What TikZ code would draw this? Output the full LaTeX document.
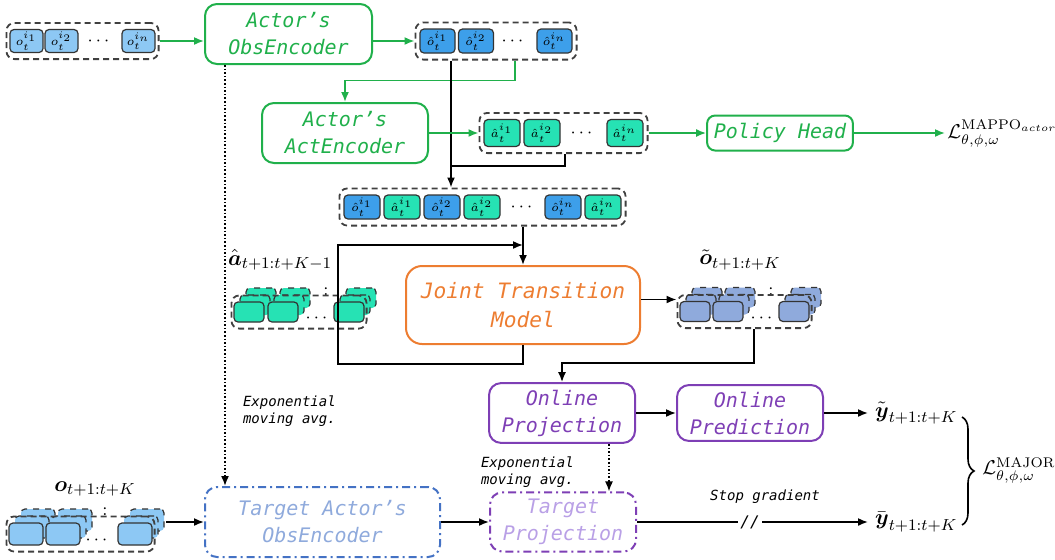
\documentclass[tikz,border=0pt]{standalone}
\usepackage{amsmath,amssymb}
\usepackage{fontspec}
\usepackage{tikz}
\usetikzlibrary{positioning, calc, arrows.meta, fit, decorations.pathreplacing}
\newfontfamily\codefont{DejaVu Sans Mono}

\definecolor{encgreen}{HTML}{20B04B}
\definecolor{jtorange}{HTML}{ED7D31}
\definecolor{projpurple}{HTML}{7E3FB5}
\definecolor{tgtblue}{HTML}{4472C4}
\definecolor{tgtbluetext}{HTML}{8FAADC}
\definecolor{tgtpurpletext}{HTML}{B9A0E6}
\definecolor{obsblue}{HTML}{8DC8F4}
\definecolor{ohatblue}{HTML}{3D9FEA}
\definecolor{ahatgreen}{HTML}{26E2B4}
\definecolor{otilblue}{HTML}{8FAADC}

\tikzset{
  cell/.style={draw=black!80, line width=0.6pt, rounded corners=2pt,
    minimum width=18pt, minimum height=12pt, inner sep=0pt, font=\fontsize{6}{7}\selectfont},
  backcell/.style={cell, dashed},
  dots/.style={inner sep=0pt, font=\small},
  group/.style={draw=black!75, line width=0.9pt, dash pattern=on 3pt off 2pt,
    rounded corners=4pt, inner xsep=2pt, inner ysep=3pt},
  block/.style={draw, line width=1pt, rounded corners=6pt, align=center,
    font=\codefont\itshape\fontsize{10}{13.5}\selectfont},
  target/.style={block, dash pattern=on 4pt off 2pt on 1pt off 2pt},
  note/.style={font=\codefont\itshape\fontsize{7}{8.5}\selectfont, align=left},
  mathlabel/.style={font=\fontsize{11}{13}\selectfont},
  losslabel/.style={anchor=west, inner sep=1pt, font=\fontsize{10}{12}\selectfont},
  conn/.style={->, line width=0.8pt},
}

\begin{document}
\begin{tikzpicture}[x=0.5pt, y=-0.5pt, >={Latex[length=5pt,width=4pt]}]
    \useasboundingbox (0,0) rectangle (1055,559);

    % Observation inputs
    \foreach \k/\x in {1/26.5, 2/61.5, n/138.5}
        \node[cell, fill=obsblue, minimum width=16.5pt, minimum height=11.5pt] (o\k) at (\x,41) {$o_t^{i_\k}$};
    \node[dots] (odots) at (100,41) {$\cdots$};
    \node[group, inner xsep=1.5pt, fit=(o1)(on)] (obsin) {};

    % Actor's encoders
    \node[block, draw=encgreen, text=encgreen, minimum width=83.5pt, minimum height=30pt] (obsenc) at (288.5,34) {Actor’s\\ObsEncoder};
    \node[block, draw=encgreen, text=encgreen, minimum width=83pt, minimum height=30pt] (actenc) at (345,133) {Actor’s\\ActEncoder};

    % Encoded observations
    \foreach \k/\x in {1/437.5, 2/476, n/554.5}
        \node[cell, fill=ohatblue, minimum width=17.5pt] (oh\k) at (\x,41) {$\hat{o}_t^{i_\k}$};
    \node[dots] (ohdots) at (514,41) {$\cdots$};
    \node[group, fit=(oh1)(ohn)] (ohat) {};

    % Encoded actions
    \foreach \k/\x in {1/502, 2/542, n/625}
        \node[cell, fill=ahatgreen, minimum height=13.5pt] (ah\k) at (\x,133) {$\hat{a}_t^{i_\k}$};
    \node[dots] (ahdots) at (583,133) {$\cdots$};
    \node[group, fit=(ah1)(ahn)] (ahat) {};

    \node[block, draw=encgreen, text=encgreen, minimum width=72pt, minimum height=17.5pt, rounded corners=4pt] (policy) at (780,133) {Policy Head};
    \node[losslabel] (lmappo) at (945,133) {$\mathcal{L}_{\theta,\phi,\omega}^{\mathrm{MAPPO}_{actor}}$};

    % Concatenated tokens
    \foreach \k/\x in {1/362, 2/442, n/563}
        \node[cell, fill=ohatblue] (co\k) at (\x,207) {$\hat{o}_t^{i_\k}$};
    \foreach \k/\x in {1/402, 2/482, n/603}
        \node[cell, fill=ahatgreen] (ca\k) at (\x,207) {$\hat{a}_t^{i_\k}$};
    \node[dots] (cdots) at (523,207) {$\cdots$};
    \node[group, fit=(co1)(can)] (cat) {};

    % Joint transition model
    \node[block, draw=jtorange, text=jtorange, minimum width=117pt, minimum height=39pt, rounded corners=8pt,
        font=\codefont\itshape\fontsize{10.6}{14.5}\selectfont] (jtm) at (523,305) {Joint Transition\\Model};

    % Action stack
    \foreach \dx/\dy in {12/14, 6/7}
        \foreach \x in {249,283,349}
            \node[backcell, fill=ahatgreen, minimum width=15pt, minimum height=10pt] (ab\dx\x) at (\x+\dx,312-\dy) {};
    \foreach \k/\x in {1/249, 2/283, n/349}
        \node[cell, fill=ahatgreen, minimum width=15pt, minimum height=10pt] (as\k) at (\x,312) {};
    \node[dots] (asdots) at (318,318) {$\cdots$};
    \node[dots] (asvdots) at (326,292) {:};
    \node[group, inner xsep=1pt, fit=(as1)(asn)] (agrp) {};
    \node[mathlabel] (alabel) at (280,260) {$\hat{\boldsymbol{a}}_{t+1:t+K-1}$};

    % Predicted observation stack
    \foreach \dx/\dy in {12/14, 6/7}
        \foreach \x in {695,728,794}
            \node[backcell, fill=otilblue, minimum width=15pt, minimum height=10pt] (ob\dx\x) at (\x+\dx,311.5-\dy) {};
    \foreach \k/\x in {1/695, 2/728, n/794}
        \node[cell, fill=otilblue, minimum width=15pt, minimum height=10pt] (os\k) at (\x,311.5) {};
    \node[dots] (osdots) at (763,318) {$\cdots$};
    \node[dots] (osvdots) at (771,292) {:};
    \node[group, inner xsep=1pt, fit=(os1)(osn)] (ogrp) {};
    \node[mathlabel] (olabel) at (740,260) {$\tilde{\boldsymbol{o}}_{t+1:t+K}$};

    % Online branch
    \node[block, draw=projpurple, text=projpurple, minimum width=73pt, minimum height=27.5pt] (onproj) at (562,413) {Online\\Projection};
    \node[block, draw=projpurple, text=projpurple, minimum width=73pt, minimum height=27.5pt] (onpred) at (750,413) {Online\\Prediction};
    \node[mathlabel, anchor=west] (ytl) at (868,413) {$\tilde{\boldsymbol{y}}_{t+1:t+K}$};

    % Future observation stack
    \foreach \dx/\dy in {12/14, 6/7}
        \foreach \x in {26,63,135}
            \node[backcell, fill=obsblue, minimum width=17pt, minimum height=11pt] (fb\dx\x) at (\x+\dx,534-\dy) {};
    \foreach \k/\x in {1/26, 2/63, n/135}
        \node[cell, fill=obsblue, minimum width=17pt, minimum height=11pt] (fs\k) at (\x,534) {};
    \node[dots] (fsdots) at (98,540) {$\cdots$};
    \node[dots] (fsvdots) at (105,512) {:};
    \node[group, inner xsep=1pt, fit=(fs1)(fsn)] (fgrp) {};
    \node[mathlabel] (flabel) at (95,489) {$\boldsymbol{o}_{t+1:t+K}$};

    % Target branch
    \node[target, draw=tgtblue, text=tgtbluetext, minimum width=117.5pt, minimum height=35pt] (tgtenc) at (322.5,522) {Target Actor’s\\ObsEncoder};
    \node[target, draw=projpurple, text=tgtpurpletext, minimum width=73pt, minimum height=27.5pt] (tgtproj) at (563,522) {Target\\Projection};
    \node[font=\codefont\itshape\fontsize{8}{9}\selectfont, inner sep=1pt] (sg) at (750,522) {//};
    \node[note] (sglabel) at (765,497) {Stop gradient};
    \node[mathlabel, anchor=west] (ybar) at (868,522) {$\bar{\boldsymbol{y}}_{t+1:t+K}$};
    \node[losslabel] (lmajor) at (980,470) {$\mathcal{L}_{\theta,\phi,\omega}^{\mathrm{MAJOR}}$};

    \node[note, anchor=west] (emalabel) at (236,411) {Exponential\\moving avg.};
    \node[note, anchor=west] (emalabelb) at (474,472) {Exponential\\moving avg.};

    % Turning points
    \coordinate (trunk) at (451,0);
    \coordinate (gtap) at (515,0);
    \coordinate (atap) at (565,0);
    \coordinate (merge) at (451,166);
    \coordinate (emaenc) at (225,0);
    \coordinate (emaproj) at (609,0);
    \coordinate (loopturn) at (338,245);
    \coordinate (otap) at (754,363);
    \coordinate (fout) at (166,522);
    \coordinate (tin) at ([yshift=6pt]ogrp.west);

    % Connectors
    \draw[conn, encgreen] (obsin.east) -- (obsin.east -| obsenc.west);
    \draw[conn, encgreen] (obsenc.east |- ohat.west) -- (ohat.west);
    \draw[conn, encgreen] (ohat.south -| gtap) -- ++(0,20) -| (actenc.north);
    \draw[conn] (ohat.south -| trunk) -- (cat.north -| trunk);
    \draw[conn, encgreen] (actenc.east |- ahat.west) -- (ahat.west);
    \draw[line width=0.8pt] (ahat.south -| atap) |- (merge);
    \draw[conn, encgreen] (ahat) -- (policy);
    \draw[conn, encgreen] (policy) -- (lmappo);
    \draw[conn] (cat.south -| jtm.north) -- (jtm.north);
    \draw[conn] (jtm.south) -- ++(0,19) -| (loopturn) -- (loopturn -| jtm.north);
    \draw[conn] (jtm.east |- tin) -- (tin);
    \draw[conn] (ogrp.south -| otap) -- (otap) -| (onproj.north);
    \draw[conn] (onproj) -- (onpred);
    \draw[conn] (onpred) -- (ytl);
    \draw[conn, densely dotted] (obsenc.south -| emaenc) -- (tgtenc.north -| emaenc);
    \draw[conn] (fout) -- (fout -| tgtenc.west);
    \draw[conn] (tgtenc.east) -- (tgtenc.east -| tgtproj.west);
    \draw[conn, densely dotted] (onproj.south -| emaproj) -- (tgtproj.north -| emaproj);
    \draw[line width=0.8pt] (tgtproj.east) -- (sg.west);
    \draw[conn] (sg.east) -- (ybar.west);

    % Brace over both targets
    \draw[decorate, decoration={brace, amplitude=6pt}, line width=0.8pt] (962,417) -- (962,525);

\end{tikzpicture}
\end{document}
